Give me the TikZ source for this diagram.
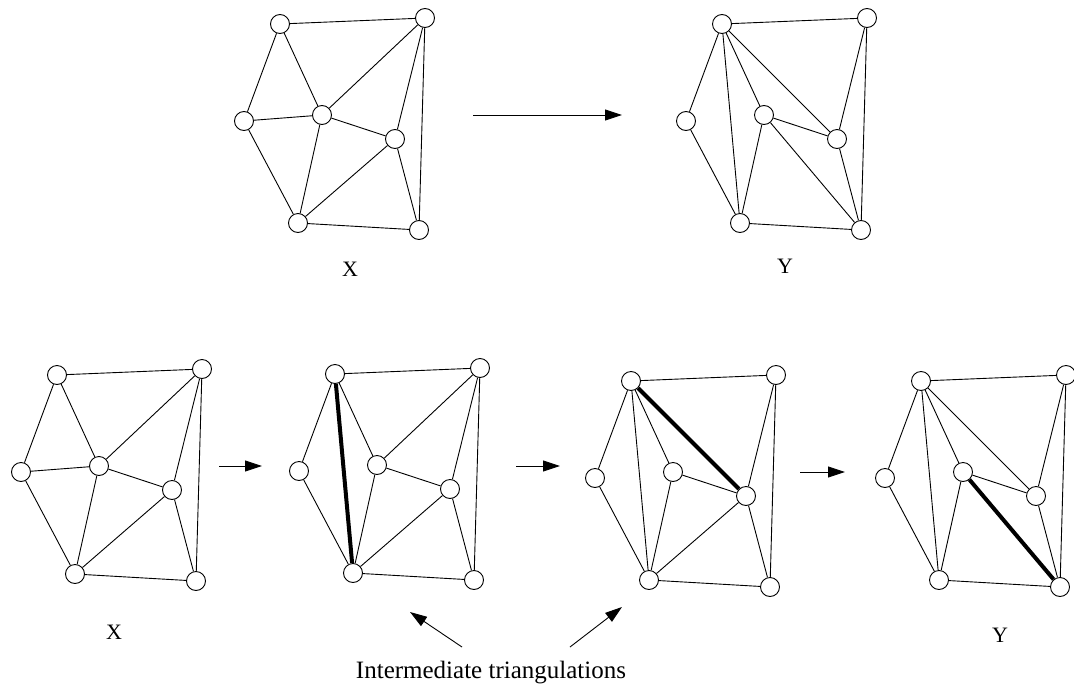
\documentclass[tikz,border=0pt]{standalone}
\usepackage{fontspec}
\setmainfont{Liberation Serif}
\usetikzlibrary{arrows.meta}
\tikzset{
  vtx/.style={circle, draw=black, fill=white, line width=0.9pt, minimum size=19pt, inner sep=0pt},
  edge/.style={line width=0.9pt},
  flip/.style={line width=4pt},
  arr/.style={line width=0.9pt, -{Triangle[length=17pt, width=11pt]}},
  lbl/.style={font=\fontsize{22}{24}\selectfont, inner sep=0pt},
  captxt/.style={font=\fontsize{25}{28}\selectfont, inner sep=0pt}
}
\newcommand\tripts{%
  \node[vtx] (A) at (280,24) {};
  \node[vtx] (B) at (425,18) {};
  \node[vtx] (C) at (244,121) {};
  \node[vtx] (D) at (322,115) {};
  \node[vtx] (E) at (395,139) {};
  \node[vtx] (F) at (298,223) {};
  \node[vtx] (G) at (419,230) {};
}
\begin{document}
\begin{tikzpicture}[x=1pt, y=-1pt]
\useasboundingbox (0,0) rectangle (1074,683);
% top X
\begin{scope}[name prefix=tx-]
  \tripts
  \draw[edge] (A)--(B) (A)--(C) (A)--(D) (C)--(D) (C)--(F) (D)--(F) (D)--(B)
              (D)--(E) (E)--(B) (E)--(F) (E)--(G) (B)--(G) (F)--(G);
\end{scope}
% top Y
\begin{scope}[shift={(442,0)}, name prefix=ty-]
  \tripts
  \draw[edge] (A)--(B) (A)--(C) (A)--(F) (A)--(D) (A)--(E) (C)--(F) (D)--(F)
              (D)--(E) (D)--(G) (E)--(B) (E)--(G) (B)--(G) (F)--(G);
\end{scope}
% bottom 1
\begin{scope}[shift={(-223,351)}, name prefix=b1-]
  \tripts
  \draw[edge] (A)--(B) (A)--(C) (A)--(D) (C)--(D) (C)--(F) (D)--(F) (D)--(B)
              (D)--(E) (E)--(B) (E)--(F) (E)--(G) (B)--(G) (F)--(G);
\end{scope}
% bottom 2
\begin{scope}[shift={(55,350)}, name prefix=b2-]
  \tripts
  \draw[edge] (A)--(B) (A)--(C) (A)--(D) (C)--(F) (D)--(F) (D)--(B)
              (D)--(E) (E)--(B) (E)--(F) (E)--(G) (B)--(G) (F)--(G);
  \draw[flip] (A)--(F);
\end{scope}
% bottom 3
\begin{scope}[shift={(351,357)}, name prefix=b3-]
  \tripts
  \draw[edge] (A)--(B) (A)--(C) (A)--(F) (A)--(D) (C)--(F) (D)--(F)
              (D)--(E) (E)--(F) (E)--(B) (E)--(G) (B)--(G) (F)--(G);
  \draw[flip] (A)--(E);
\end{scope}
% bottom 4
\begin{scope}[shift={(641,357)}, name prefix=b4-]
  \tripts
  \draw[edge] (A)--(B) (A)--(C) (A)--(F) (A)--(D) (A)--(E) (C)--(F) (D)--(F)
              (D)--(E) (E)--(B) (E)--(G) (B)--(G) (F)--(G);
  \draw[flip] (D)--(G);
\end{scope}
% arrows
\coordinate (t0) at (473,115); \coordinate (t1) at (622,115);
\draw[arr] (t0)--(t1);
\coordinate (a0) at (219,466); \coordinate (a1) at (262,466);
\coordinate (b0) at (516,466); \coordinate (b1) at (560,466);
\coordinate (c0) at (800,472); \coordinate (c1) at (845,472);
\draw[arr] (a0)--(a1);
\draw[arr] (b0)--(b1);
\draw[arr] (c0)--(c1);
% labels
\node[lbl] (lx) at (350,269) {X};
\node[lbl] (ly) at (785,266) {Y};
\node[lbl] (lbx) at (114,632) {X};
\node[lbl] (lby) at (1000,635) {Y};
\node[captxt, anchor=base] (capt) at (491,678) {Intermediate triangulations};
\coordinate (q1) at (462,647); \coordinate (p1) at (410,612);
\coordinate (q2) at (570,647); \coordinate (p2) at (622,607);
\draw[arr] (q1) -- (p1);
\draw[arr] (q2) -- (p2);
\end{tikzpicture}
\end{document}
